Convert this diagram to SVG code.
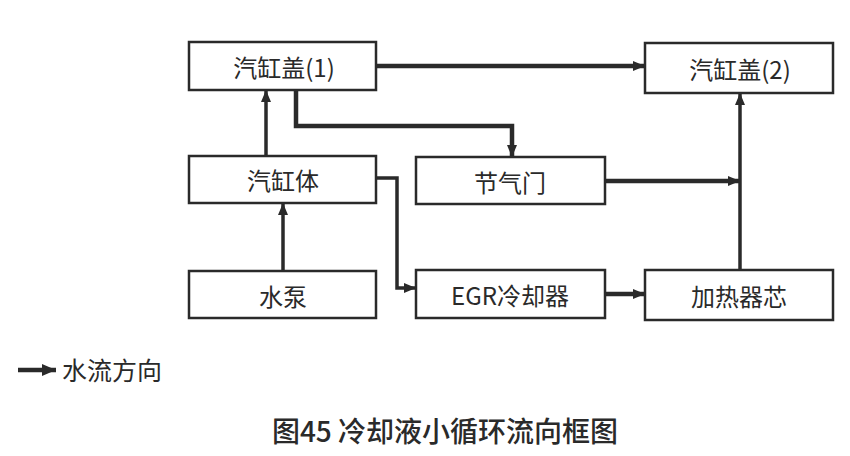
<svg xmlns="http://www.w3.org/2000/svg" width="850" height="456" viewBox="0 0 850 456">
<style>
.box{fill:#fff;stroke:#2a2a2a;stroke-width:2.5}
.lbl{font-family:"Noto Sans CJK SC","Noto Sans",sans-serif;font-size:24px;fill:#2a2a2a;text-anchor:middle;dominant-baseline:central}
.c{fill:none;stroke:#2a2a2a;stroke-linejoin:miter}
.thick{stroke-width:4.5}
.thin{stroke-width:3.5}
</style>
<defs>
<marker id="ah" viewBox="0 0 12 10" refX="12" refY="5" markerWidth="12" markerHeight="10" markerUnits="userSpaceOnUse" orient="auto">
<path d="M0,0 L12,5 L0,10 Z" fill="#2a2a2a"/>
</marker>
<marker id="ahL" viewBox="0 0 14 12" refX="14" refY="6" markerWidth="14" markerHeight="12" markerUnits="userSpaceOnUse" orient="auto">
<path d="M0,0 L14,6 L0,12 Z" fill="#2a2a2a"/>
</marker>
</defs>
<rect width="850" height="456" fill="#fff"/>
<g id="connectors">
<path class="c thick" d="M376,66 H645" marker-end="url(#ah)"/>
<path class="c thick" d="M296,90 V126 H512 V157" marker-end="url(#ah)"/>
<path class="c thin" d="M266,156 V90" marker-end="url(#ah)"/>
<path class="c thin" d="M283,271 V203" marker-end="url(#ah)"/>
<path class="c thin" d="M376,178 H397 V288 H416" marker-end="url(#ah)"/>
<path class="c thick" d="M605,294 H645" marker-end="url(#ah)"/>
<path class="c thick" d="M605,181 H740" marker-end="url(#ah)"/>
<path class="c thin" d="M740,270 V93" marker-end="url(#ah)"/>
</g>
<g id="cylinder-head-1"><rect class="box" x="189" y="42" width="187" height="48"/><text class="lbl" x="284" y="66">汽缸盖(1)</text></g>
<g id="cylinder-head-2"><rect class="box" x="645" y="43" width="188" height="50"/><text class="lbl" x="740" y="68">汽缸盖(2)</text></g>
<g id="cylinder-block"><rect class="box" x="189" y="156" width="187" height="47"/><text class="lbl" x="283" y="179">汽缸体</text></g>
<g id="throttle"><rect class="box" x="416" y="157" width="189" height="47"/><text class="lbl" x="510" y="181">节气门</text></g>
<g id="water-pump"><rect class="box" x="189" y="271" width="187" height="47"/><text class="lbl" x="283" y="295">水泵</text></g>
<g id="egr-cooler"><rect class="box" x="416" y="270" width="189" height="48"/><text class="lbl" x="510" y="294">EGR冷却器</text></g>
<g id="heater-core"><rect class="box" x="645" y="270" width="188" height="50"/><text class="lbl" x="739" y="295">加热器芯</text></g>
<g id="legend">
<path class="c thick" d="M18,370 H56" marker-end="url(#ahL)"/>
<text x="62" y="369" font-family="Noto Sans CJK SC,sans-serif" font-size="25" fill="#2a2a2a" dominant-baseline="central">水流方向</text>
</g>
<text x="445" y="430" font-family="Noto Sans CJK SC,sans-serif" font-size="28" font-weight="500" fill="#2a2a2a" text-anchor="middle" dominant-baseline="central">图45 冷却液小循环流向框图</text>
</svg>
